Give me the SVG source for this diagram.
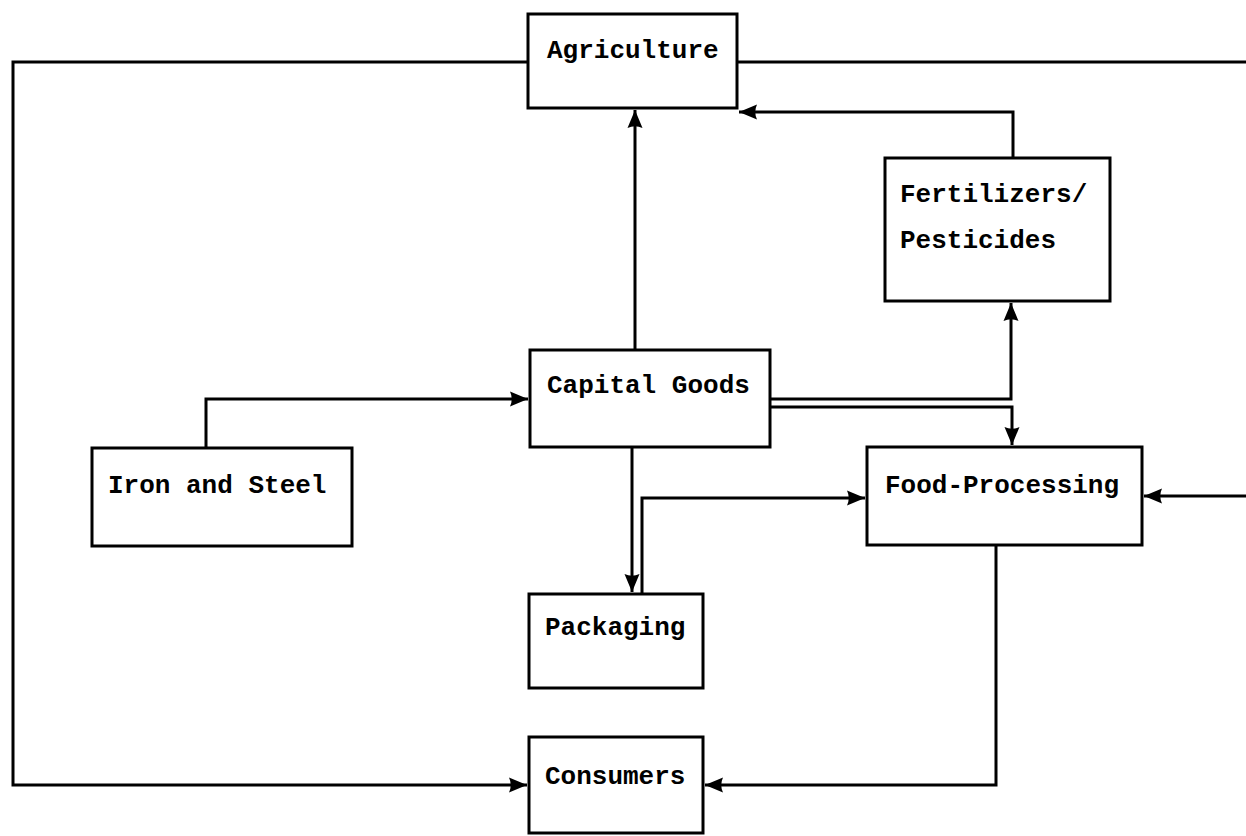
<svg xmlns="http://www.w3.org/2000/svg" width="1246" height="836" viewBox="0 0 1246 836">
<defs>
<style>
.box{fill:#fff;stroke:#000;stroke-width:3}
.lbl{font-family:"Liberation Mono","DejaVu Sans Mono",monospace;font-weight:bold;font-size:26px;fill:#000}
.con{fill:none;stroke:#000;stroke-width:3;stroke-linejoin:miter}
</style>
<marker id="ah" markerUnits="userSpaceOnUse" markerWidth="22" markerHeight="20" refX="18" refY="10" orient="auto">
<path d="M0,2.5 L18,10 L0,17.5 Q3.5,10 0,2.5 Z" fill="#000"/>
</marker>
</defs>
<rect width="1246" height="836" fill="#fff"/>
<g id="connectors">
<path class="con" d="M528,62 H13 V785 H527" marker-end="url(#ah)"/>
<path class="con" d="M737,62 H1246"/>
<path class="con" d="M1013,158 V112 H739" marker-end="url(#ah)"/>
<path class="con" d="M635,350 V110" marker-end="url(#ah)"/>
<path class="con" d="M770,399 H1011 V303" marker-end="url(#ah)"/>
<path class="con" d="M770,407 H1012 V445" marker-end="url(#ah)"/>
<path class="con" d="M206,448 V399 H528" marker-end="url(#ah)"/>
<path class="con" d="M632,447 V592" marker-end="url(#ah)"/>
<path class="con" d="M642,594 V498 H865" marker-end="url(#ah)"/>
<path class="con" d="M1246,496 H1144" marker-end="url(#ah)"/>
<path class="con" d="M996,545 V785 H705" marker-end="url(#ah)"/>
</g>
<g id="agriculture"><rect class="box" x="528" y="14" width="209" height="94"/><text class="lbl" x="547" y="58">Agriculture</text></g>
<g id="fertilizers"><rect class="box" x="885" y="158" width="225" height="143"/><text class="lbl" x="900" y="202">Fertilizers/</text><text class="lbl" x="900" y="248">Pesticides</text></g>
<g id="capital-goods"><rect class="box" x="530" y="350" width="240" height="97"/><text class="lbl" x="547" y="393">Capital Goods</text></g>
<g id="iron-steel"><rect class="box" x="92" y="448" width="260" height="98"/><text class="lbl" x="108" y="493">Iron and Steel</text></g>
<g id="food-processing"><rect class="box" x="867" y="447" width="275" height="98"/><text class="lbl" x="885" y="493">Food-Processing</text></g>
<g id="packaging"><rect class="box" x="529" y="594" width="174" height="94"/><text class="lbl" x="545" y="635">Packaging</text></g>
<g id="consumers"><rect class="box" x="529" y="737" width="174" height="96"/><text class="lbl" x="545" y="784">Consumers</text></g>
</svg>
